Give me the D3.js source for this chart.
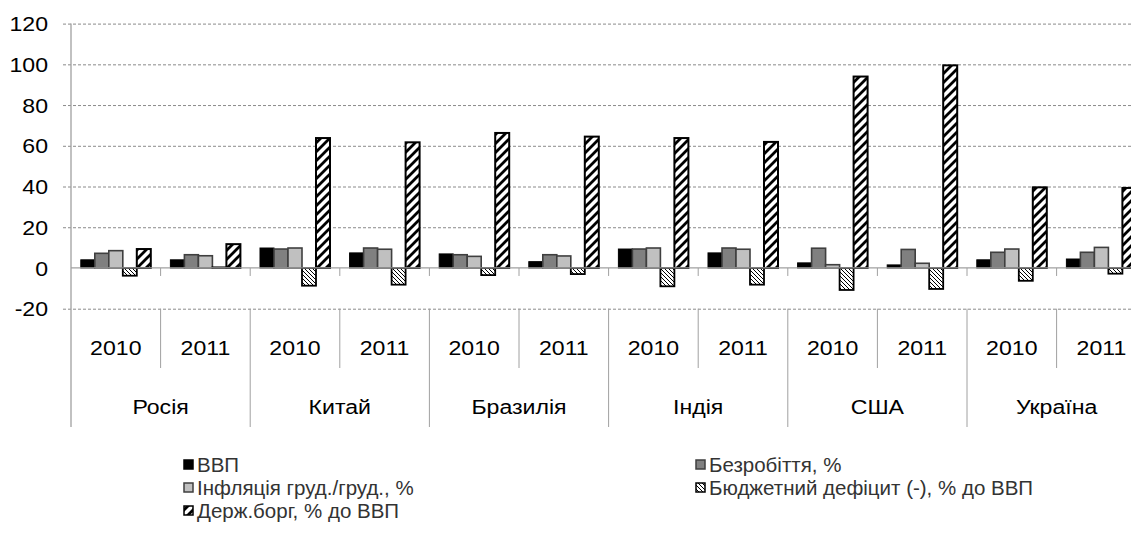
<!DOCTYPE html>
<html>
<head>
<meta charset="utf-8">
<script src="https://cdn.jsdelivr.net/npm/d3@7"></script>
<style>
  body { margin: 0; background: #fff; }
  svg { display: block; font-family: "Liberation Sans", Arial, sans-serif; }
</style>
</head>
<body>
<svg width="1131" height="544"></svg>
<script>
// дані, прочитані з діаграми
var countries = ["Росія", "Китай", "Бразилія", "Індія", "США", "Україна"];
var years = ["2010", "2011"];
var seriesNames = ["ВВП", "Безробіття, %", "Інфляція груд./груд., %",
    "Бюджетний дефіцит (-), % до ВВП", "Держ.борг, % до ВВП"];
// по два значення на країну: 2010, 2011
var gdp = [4.0, 4.0, 9.8, 7.4, 6.9, 3.1, 9.3, 7.4, 2.5, 1.5, 4.0, 4.4];
var unemployment = [7.2, 6.5, 9.3, 9.8, 6.5, 6.5, 9.3, 9.8, 9.7, 9.1, 7.7, 7.7];
var inflation = [8.5, 6.0, 9.8, 9.2, 5.7, 5.9, 9.8, 9.2, 1.6, 2.3, 9.3, 10.1];
var deficit = [-3.8, 0.3, -8.7, -8.2, -3.5, -3.0, -9.0, -8.2, -10.8, -10.3, -6.3, -2.8];
var debt = [9.3, 11.7, 63.8, 61.7, 66.3, 64.5, 63.8, 61.9, 94.0, 99.5, 39.6, 39.3];
var yTicks = [-20, 0, 20, 40, 60, 80, 100, 120];

var svg = d3.select("svg");
var W = 1131;
var sx = 1.1;   // текст на оригіналі трохи розтягнутий по горизонталі

var defs = svg.append("defs");
// штриховка для держборгу
var p1 = defs.append("pattern")
    .attr("id", "hatchDebt")
    .attr("patternUnits", "userSpaceOnUse")
    .attr("width", 9).attr("height", 9);
p1.append("rect").attr("width", 9).attr("height", 9).attr("fill", "#fff");
p1.append("path")
    .attr("d", "M0,9 L9,0 M-2.25,2.25 L2.25,-2.25 M6.75,11.25 L11.25,6.75")
    .attr("stroke", "#000").attr("stroke-width", 2.8);

// дрібна штриховка для дефіциту
var p2 = defs.append("pattern")
    .attr("id", "hatchDef")
    .attr("patternUnits", "userSpaceOnUse")
    .attr("width", 4).attr("height", 4);
p2.append("rect").attr("width", 4).attr("height", 4).attr("fill", "#fff");
p2.append("path")
    .attr("d", "M0,0 L4,4 M-1,3 L1,5 M3,-1 L5,1")
    .attr("stroke", "#000").attr("stroke-width", 1);

var styles = [
    { fill: "#000", stroke: "#000", sw: 1 },
    { fill: "#808080", stroke: "#3f3f3f", sw: 1.6 },
    { fill: "#c0c0c0", stroke: "#3f3f3f", sw: 1.6 },
    { fill: "url(#hatchDef)", stroke: "#000", sw: 1.8 },
    { fill: "url(#hatchDebt)", stroke: "#000", sw: 2 }
];

var slots = [];
countries.forEach(function (c) {
    years.forEach(function (y) { slots.push(c + "|" + y); });
});

var x = d3.scaleBand()
    .domain(slots)
    .range([71, 71 + 12 * 89.6]);

var xs = d3.scaleBand()
    .domain(d3.range(seriesNames.length))
    .range([9.8, 79.8]);

var y = d3.scaleLinear()
    .domain([-20, 120])
    .range([308.7, 23.6]);

var values = [gdp, unemployment, inflation, deficit, debt];

// сітка
svg.append("g").selectAll("line")
    .data(yTicks.filter(function (d) { return d !== 0; }))
    .enter().append("line")
    .attr("x1", 63).attr("x2", W)
    .attr("y1", function (d) { return y(d) + 0.5; })
    .attr("y2", function (d) { return y(d) + 0.5; })
    .attr("stroke", "#8a8a8a")
    .attr("stroke-dasharray", "3,2");

// підписи осі Y
svg.append("g").selectAll("text")
    .data(yTicks)
    .enter().append("text")
    .attr("transform", function (d) { return "translate(48," + y(d) + ") scale(" + sx + ",1)"; })
    .attr("dy", "0.36em")
    .attr("text-anchor", "end")
    .attr("font-size", 21)
    .attr("fill", "#000")
    .text(function (d) { return d; });

// стовпці
var gBars = svg.append("g");
values.forEach(function (arr, si) {
    gBars.append("g").selectAll("rect")
        .data(arr)
        .enter().append("rect")
        .attr("x", function (d, i) { return x(slots[i]) + xs(si); })
        .attr("width", xs.bandwidth())
        .attr("y", function (d) { return y(Math.max(0, d)); })
        .attr("height", function (d) { return Math.abs(y(d) - y(0)); })
        .attr("fill", styles[si].fill)
        .attr("stroke", styles[si].stroke)
        .attr("stroke-width", styles[si].sw);
});

// нульова лінія та засічки
svg.append("line")
    .attr("x1", 71).attr("x2", W)
    .attr("y1", y(0)).attr("y2", y(0))
    .attr("stroke", "#a0a0a0").attr("stroke-width", 1.3);

svg.append("g").selectAll("line")
    .data(slots.slice(1))
    .enter().append("line")
    .attr("x1", function (d) { return x(d); })
    .attr("x2", function (d) { return x(d); })
    .attr("y1", y(0)).attr("y2", y(0) + 8)
    .attr("stroke", "#a0a0a0");

// вісь Y
svg.append("line")
    .attr("x1", 71).attr("x2", 71)
    .attr("y1", y(120)).attr("y2", 427)
    .attr("stroke", "#a0a0a0").attr("stroke-width", 1.3);

// роздільники категорій
svg.append("g").selectAll("line")
    .data(slots.slice(1))
    .enter().append("line")
    .attr("x1", function (d) { return x(d); })
    .attr("x2", function (d) { return x(d); })
    .attr("y1", y(-20))
    .attr("y2", function (d) { return d.split("|")[1] === years[0] ? 427 : 368; })
    .attr("stroke", "#a0a0a0");

// підписи років
svg.append("g").selectAll("text")
    .data(slots)
    .enter().append("text")
    .attr("transform", function (d) {
        return "translate(" + (x(d) + x.bandwidth() / 2) + ",355) scale(" + sx + ",1)";
    })
    .attr("text-anchor", "middle")
    .attr("font-size", 21)
    .text(function (d) { return d.split("|")[1]; });

// підписи країн
svg.append("g").selectAll("text")
    .data(countries)
    .enter().append("text")
    .attr("transform", function (d) {
        return "translate(" + (x(d + "|" + years[0]) + x.bandwidth()) + ",414) scale(" + sx + ",1)";
    })
    .attr("text-anchor", "middle")
    .attr("font-size", 21)
    .text(function (d) { return d; });

// легенда
var legendPos = [
    { x: 183, y: 465 }, { x: 695, y: 465 },
    { x: 183, y: 488 }, { x: 695, y: 488 },
    { x: 183, y: 511 }
];
var legend = svg.append("g").selectAll("g")
    .data(seriesNames)
    .enter().append("g")
    .attr("transform", function (d, i) {
        return "translate(" + legendPos[i].x + "," + legendPos[i].y + ")";
    });

legend.append("rect")
    .attr("x", 1).attr("y", -5)
    .attr("width", 9).attr("height", 9)
    .attr("fill", function (d, i) { return styles[i].fill; })
    .attr("stroke", function (d, i) { return styles[i].stroke; })
    .attr("stroke-width", 1.5);

legend.append("text")
    .attr("x", 14)
    .attr("dy", "0.36em")
    .attr("font-size", 20.5)
    .attr("fill", "#333")
    .text(function (d) { return d; });
</script>
</body>
</html>
